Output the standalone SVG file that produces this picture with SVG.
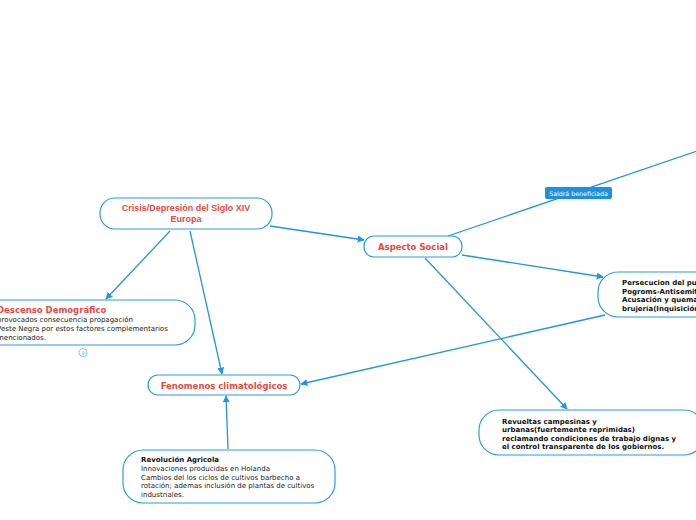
<svg xmlns="http://www.w3.org/2000/svg" width="696" height="520" viewBox="0 0 696 520">
<style>
.node{fill:#fff;stroke:#2b9be3;stroke-width:1.2}
.conn{stroke:#2196e0;stroke-width:1.3;fill:none}
.ttl{font-family:"DejaVu Sans",Verdana,sans-serif;font-weight:bold;fill:#e8493f;font-size:8.5px}
.body{font-family:"DejaVu Sans",Verdana,sans-serif;fill:#222;font-size:7px}
.bb{font-family:"DejaVu Sans",Verdana,sans-serif;fill:#111;font-size:7px;font-weight:bold}
</style>
<defs>
<marker id="arr" viewBox="0 0 10 10" refX="9" refY="5" markerWidth="7" markerHeight="7" markerUnits="userSpaceOnUse" orient="auto">
<path d="M0,0 L10,5 L0,10 Z" fill="#2196e0"/>
</marker>
</defs>
<g id="connectors">
<line class="conn" x1="270" y1="226" x2="364" y2="240" marker-end="url(#arr)"/>
<line class="conn" x1="170" y1="231" x2="106" y2="299" marker-end="url(#arr)"/>
<line class="conn" x1="190" y1="231" x2="222" y2="374" marker-end="url(#arr)"/>
<line class="conn" x1="228" y1="449" x2="226" y2="396" marker-end="url(#arr)"/>
<line class="conn" x1="448" y1="236" x2="700" y2="150"/>
<line class="conn" x1="462" y1="255" x2="603" y2="277" marker-end="url(#arr)"/>
<line class="conn" x1="425" y1="258" x2="567" y2="409" marker-end="url(#arr)"/>
<line class="conn" x1="605" y1="315" x2="301" y2="384" marker-end="url(#arr)"/>
<g id="label-saldra">
<rect x="545" y="187" width="67" height="12" rx="2" fill="#1e90e0"/>
<text x="578.5" y="195.5" text-anchor="middle" font-family="DejaVu Sans,Verdana,sans-serif" font-size="6.3" fill="#fff">Saldrá beneficiada</text>
</g>
</g>
<g id="n-crisis">
<rect class="node" x="100" y="198" width="172" height="31" rx="15"/>
<text x="186" y="211" text-anchor="middle" font-family="Liberation Sans,Arial,sans-serif" font-weight="bold" font-size="9" fill="#e8493f">Crisis/Depresión del Siglo XIV</text>
<text x="186" y="222" text-anchor="middle" font-family="Liberation Sans,Arial,sans-serif" font-weight="bold" font-size="9" fill="#e8493f">Europa</text>
</g>
<g id="n-descenso">
<rect class="node" x="-30" y="300" width="225" height="45" rx="20"/>
<text class="ttl" x="-3" y="313" font-size="9">Descenso Demográfico</text>
<text class="body" x="-3" y="322">provocados consecuencia propagación</text>
<text class="body" x="-3" y="331">Peste Negra por estos factores complementarios</text>
<text class="body" x="-3" y="340">mencionados.</text>
<circle cx="83" cy="352.5" r="4" fill="#fff" stroke="#6cb8ec" stroke-width="0.8"/>
<text x="83" y="354.5" text-anchor="middle" font-family="DejaVu Sans,sans-serif" font-size="5" fill="#6cb8ec">9</text>
</g>
<g id="n-fenomenos">
<rect class="node" x="148" y="375" width="152" height="20" rx="10"/>
<text class="ttl" x="224" y="388.5" text-anchor="middle">Fenomenos climatológicos</text>
</g>
<g id="n-revolucion">
<rect class="node" x="123" y="450" width="212" height="53" rx="20"/>
<text class="bb" x="141" y="462">Revolución Agricola</text>
<text class="body" x="141" y="470.5">Innovaciones producidas en Holanda</text>
<text class="body" x="141" y="479.5">Cambios del los ciclos de cultivos barbecho a</text>
<text class="body" x="141" y="488">rotación; ademas inclusión de plantas de cultivos</text>
<text class="body" x="141" y="496.5">industriales.</text>
</g>
<g id="n-aspecto">
<rect class="node" x="364" y="236" width="98" height="21" rx="10"/>
<text class="ttl" x="413" y="249.5" text-anchor="middle">Aspecto Social</text>
</g>
<g id="n-persecucion">
<rect class="node" x="598" y="272" width="130" height="45" rx="20"/>
<text class="bb" x="622" y="285">Persecucion del pueblo</text>
<text class="bb" x="622" y="293.5">Pogroms-Antisemitismo</text>
<text class="bb" x="622" y="302">Acusación y quema de</text>
<text class="bb" x="622" y="310.5">brujería(Inquisición)</text>
</g>
<g id="n-revueltas">
<rect class="node" x="479" y="410" width="225" height="45" rx="20"/>
<text class="bb" x="502" y="423.5">Revueltas campesinas y</text>
<text class="bb" x="502" y="432">urbanas(fuertemente reprimidas)</text>
<text class="bb" x="502" y="440.5">reclamando condiciones de trabajo dignas y</text>
<text class="bb" x="502" y="449">el control transparente de los gobiernos.</text>
</g>
</svg>
